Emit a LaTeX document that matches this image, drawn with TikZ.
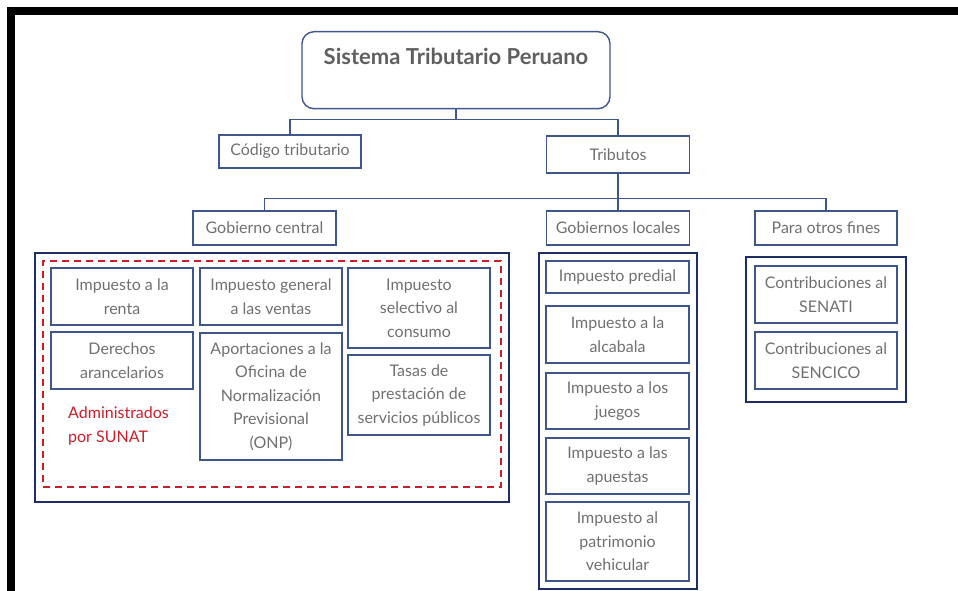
\documentclass[tikz,border=0pt]{standalone}
\usepackage{fontspec}
\setmainfont{Lato}
\usepackage{tikz}
\usepackage{xcolor}
\definecolor{boxblue}{RGB}{62,86,140}
\definecolor{navy}{RGB}{30,46,100}
\definecolor{txtgray}{RGB}{112,112,112}
\definecolor{sunatred}{RGB}{204,30,40}

\begin{document}
\begin{tikzpicture}[x=1pt,y=-1pt,
  box/.style={draw=boxblue,line width=1.4pt,text=txtgray,align=center,inner sep=0pt,
    font=\fontsize{16}{23.5}\selectfont},
  cont/.style={draw=navy,line width=2pt,inner sep=0pt},
  conn/.style={draw=boxblue,line width=1.4pt}]
\useasboundingbox (0,0) rectangle (958,591);
\fill[black] (7,7) rectangle (958,15);
\fill[black] (7,7) rectangle (15,591);
% top levels
\node[draw=boxblue,line width=1.4pt,rounded corners=12pt,anchor=north,inner sep=0pt,
  minimum width=308,text height=33,text depth=44,text=txtgray!85!black,
  font=\fontsize{22}{26}\selectfont\bfseries] (title) at (456,31) {Sistema Tributario Peruano};
\node[box,minimum width=142,minimum height=33] (codigo) at (290,151.5) {Código tributario};
\node[box,minimum width=143,minimum height=37] (tributos) at (618,154.5) {Tributos};
\node[box,minimum width=143,minimum height=34] (gc) at (264.5,228) {Gobierno central};
\node[box,minimum width=143,minimum height=34] (gl) at (618,228) {Gobiernos locales};
\node[box,minimum width=142,minimum height=34] (pof) at (826,228) {Para otros fines};
\draw[conn] (title.south) -- ++(0,10) -| (codigo.north);
\draw[conn] (title.south) -- ++(0,10) -| (tributos.north);
\draw[conn] (tributos.south) -- ++(0,25) -| (gc.north);
\draw[conn] (tributos.south) -- (gl.north);
\draw[conn] (tributos.south) -- ++(0,25) -| (pof.north);
% gobierno central
\node[cont,minimum width=474,minimum height=249] (gcbox) at (272,377.5) {};
\node[draw=sunatred,line width=1.6pt,dash pattern=on 7pt off 5pt,inner sep=0pt,
  minimum width=458,minimum height=226] (sunat) at (272,374) {};
\node[box,minimum width=142,minimum height=57] (renta) at (122,296.5) {Impuesto a la\\renta};
\node[box,minimum width=142,minimum height=57] (arancel) at (122,360.5) {Derechos\\arancelarios};
\node[box,minimum width=142,minimum height=57] (igv) at (271,296.5) {Impuesto general\\a las ventas};
\node[box,minimum width=142,minimum height=127] (onp) at (271,396.5)
  {Aportaciones a la\\Oficina de\\Normalización\\Previsional\\(ONP)};
\node[box,minimum width=142,minimum height=80] (isc) at (419,308) {Impuesto\\selectivo al\\consumo};
\node[box,minimum width=142,minimum height=80] (tasas) at (419,395)
  {Tasas de\\prestación de\\servicios públicos};
\node[text=sunatred,align=left,anchor=west,inner sep=0pt,
  font=\fontsize{16}{23.5}\selectfont] (admin) at (68,426) {Administrados\\por SUNAT};
% gobiernos locales
\node[cont,minimum width=158,minimum height=336] (glbox) at (618,421) {};
\node[box,minimum width=143,minimum height=32] (predial) at (617.5,277) {Impuesto predial};
\node[box,minimum width=143,minimum height=57] (alcabala) at (617.5,334.5) {Impuesto a la\\alcabala};
\node[box,minimum width=143,minimum height=56] (juegos) at (617.5,401) {Impuesto a los\\juegos};
\node[box,minimum width=143,minimum height=56] (apuestas) at (617.5,466) {Impuesto a las\\apuestas};
\node[box,minimum width=143,minimum height=79] (vehicular) at (617.5,541.5)
  {Impuesto al\\patrimonio\\vehicular};
% otros fines
\node[cont,minimum width=160,minimum height=145] (pofbox) at (826,329.5) {};
\node[box,minimum width=142,minimum height=57] (senati) at (826,294.5) {Contribuciones al\\SENATI};
\node[box,minimum width=142,minimum height=57] (sencico) at (826,360.5) {Contribuciones al\\SENCICO};
\end{tikzpicture}
\end{document}
